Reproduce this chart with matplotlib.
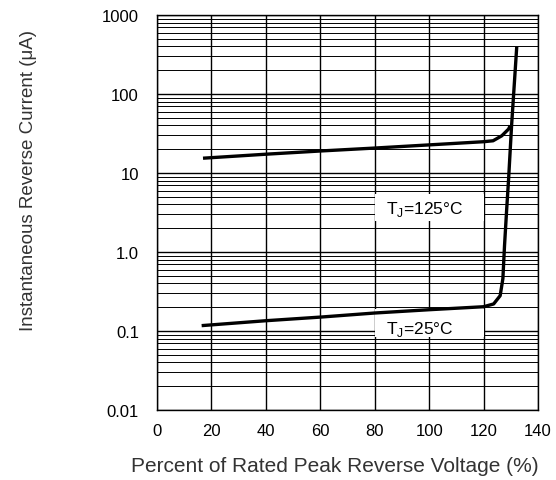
import matplotlib
matplotlib.use("Agg")
import matplotlib.pyplot as plt
from matplotlib.patches import Rectangle
from matplotlib.ticker import LogLocator, NullFormatter

plt.rcParams["font.family"] = ["Liberation Sans", "DejaVu Sans"]

# Tj = 125 C curve (percent of rated voltage, current in uA)
t125_x = [16.9, 40, 60, 80, 100, 120, 123.5, 126.7, 129.2, 129.8]
t125_y = [15.4, 17.3, 19.0, 20.7, 22.7, 24.9, 25.6, 29.6, 36.0, 40.0]

# Tj = 25 C curve, including the steep breakdown rise
t25_x = [16.4, 40, 60, 80, 100, 120, 123.7, 126.1, 127.1, 127.7, 128.5, 129.2, 130.3, 132.2]
t25_y = [0.117, 0.135, 0.15, 0.169, 0.186, 0.203, 0.22, 0.28, 0.46, 1.2, 3.5, 8.4, 40, 400]

x_ticks = [0, 20, 40, 60, 80, 100, 120, 140]
y_ticks = [0.01, 0.1, 1, 10, 100, 1000]
y_labels = ["0.01", "0.1", "1.0", "10", "100", "1000"]

fig = plt.figure(figsize=(5.56, 4.81), dpi=100)
ax = fig.add_axes([0.2824, 0.1455, 0.6852, 0.8212])

ax.set_yscale("log")
ax.set_xlim(0, 140)
ax.set_ylim(0.01, 1000)

ax.set_xticks(x_ticks)
ax.set_yticks(y_ticks)
ax.set_yticklabels(y_labels)
ax.yaxis.set_minor_locator(LogLocator(base=10, subs=range(2, 10), numticks=20))
ax.yaxis.set_minor_formatter(NullFormatter())
ax.tick_params(which="both", length=0, labelsize=12, colors="black")
ax.tick_params(axis="x", pad=9)
ax.tick_params(axis="y", pad=13)

ax.grid(True, which="major", color="black", linewidth=1.0)
ax.grid(True, which="minor", axis="y", color="black", linewidth=0.7)
for s in ax.spines.values():
    s.set_color("black")
    s.set_linewidth(1.0)

# white boxes behind the temperature labels
ax.add_patch(Rectangle((80, 2.5), 40, 3.0, facecolor="white", edgecolor="none", zorder=2.5))
ax.add_patch(Rectangle((80, 0.083), 40, 0.107, facecolor="white", edgecolor="none", zorder=2.5))

ax.plot(t125_x, t125_y, color="black", linewidth=2.4, solid_capstyle="butt", zorder=4)
ax.plot(t25_x, t25_y, color="black", linewidth=2.4, solid_capstyle="butt", zorder=4)

ax.text(98.5, 3.55, "T$_\\mathregular{J}$=125°C", ha="center", va="center",
        fontsize=12.5, zorder=3)
ax.text(96.5, 0.109, "T$_\\mathregular{J}$=25°C", ha="center", va="center",
        fontsize=12.5, zorder=3)

fig.text(334.5 / 556, 1 - 466 / 481, "Percent of Rated Peak Reverse Voltage (%)",
         ha="center", va="center", fontsize=15, color="#333333")
fig.text(29 / 556, 1 - 181 / 481, "Instantaneous Reverse Current (μA)",
         ha="center", va="center", rotation=90, fontsize=13.5, color="#333333")

fig.savefig("out.png", dpi=100)
